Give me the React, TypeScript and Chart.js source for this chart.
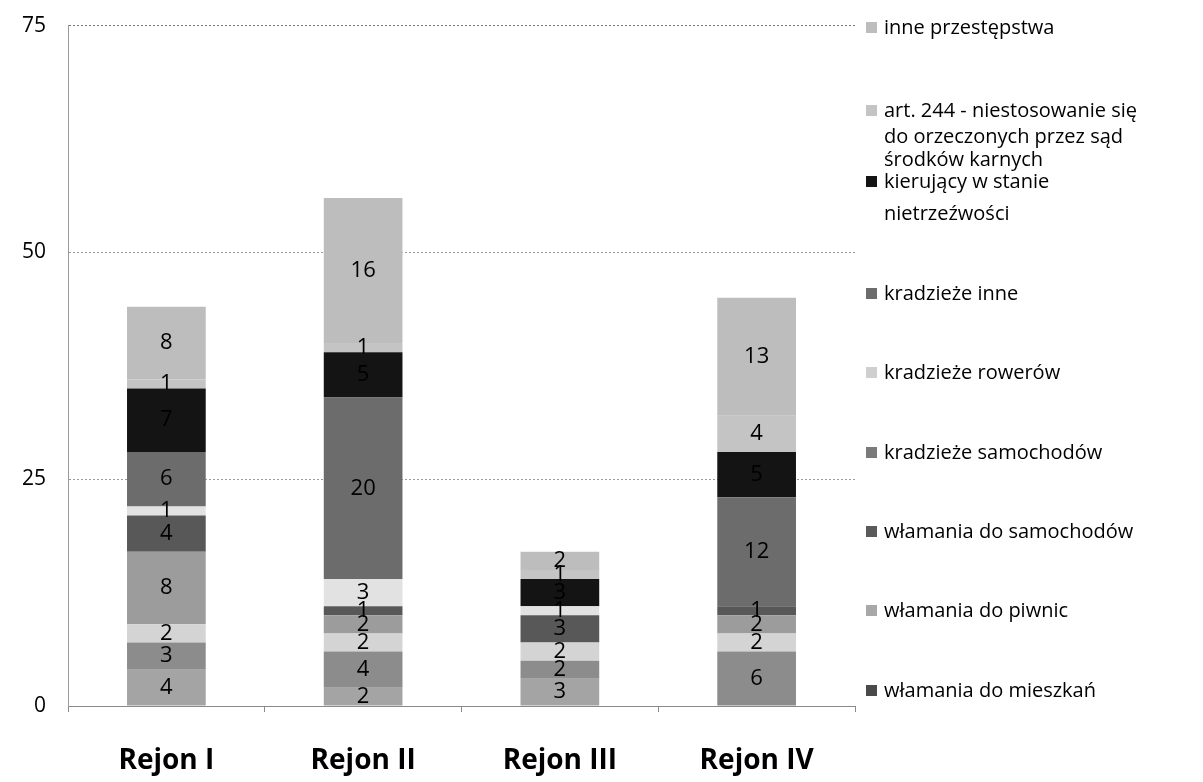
import React, { useEffect, useRef } from "react";
import { Chart, registerables } from "chart.js";

Chart.register(...registerables);

const categories = ["Rejon I", "Rejon II", "Rejon III", "Rejon IV"];

// series from bottom of the stack to the top
const seriesNames = [
  "seria spoza legendy",
  "włamania do mieszkań",
  "włamania do piwnic",
  "włamania do samochodów",
  "kradzieże samochodów",
  "kradzieże rowerów",
  "kradzieże inne",
  "kierujący w stanie nietrzeźwości",
  "art. 244 - niestosowanie się do orzeczonych przez sąd środków karnych",
  "inne przestępstwa",
];

const hiddenSeries = [4, 2, 3, 0];
const wlamaniaMieszkan = [3, 4, 2, 6];
const wlamaniaPiwnic = [2, 2, 2, 2];
const wlamaniaSamochodow = [8, 2, 0, 2];
const kradziezeSamochodow = [4, 1, 3, 1];
const kradziezeRowerow = [1, 3, 1, 0];
const kradziezeInne = [6, 20, 0, 12];
const kierujacy = [7, 5, 3, 5];
const art244 = [1, 1, 1, 4];
const innePrzestepstwa = [8, 16, 2, 13];

const seriesValues = [
  hiddenSeries,
  wlamaniaMieszkan,
  wlamaniaPiwnic,
  wlamaniaSamochodow,
  kradziezeSamochodow,
  kradziezeRowerow,
  kradziezeInne,
  kierujacy,
  art244,
  innePrzestepstwa,
];

const seriesColors = [
  "#a4a4a4",
  "#8c8c8c",
  "#d4d4d4",
  "#9c9c9c",
  "#585858",
  "#e2e2e2",
  "#6c6c6c",
  "#141414",
  "#c4c4c4",
  "#bdbdbd",
];

const yTicks = [0, 25, 50, 75];

// legend entries (top to bottom), as shown in the reference
const legendEntries: { lines: string[]; color: string; ys: number[] }[] = [
  { lines: ["inne przestępstwa"], color: "#bdbdbd", ys: [27] },
  {
    lines: ["art. 244 - niestosowanie się", "do orzeczonych przez sąd", "środków karnych"],
    color: "#c4c4c4",
    ys: [110, 136, 159],
  },
  { lines: ["kierujący w stanie", "nietrzeźwości"], color: "#141414", ys: [181, 213] },
  { lines: ["kradzieże inne"], color: "#6c6c6c", ys: [293] },
  { lines: ["kradzieże rowerów"], color: "#cfcfcf", ys: [372] },
  { lines: ["kradzieże samochodów"], color: "#7a7a7a", ys: [452] },
  { lines: ["włamania do samochodów"], color: "#5a5a5a", ys: [531] },
  { lines: ["włamania do piwnic"], color: "#a8a8a8", ys: [610] },
  { lines: ["włamania do mieszkań"], color: "#4a4a4a", ys: [690] },
];

const valueLabels = {
  id: "valueLabels",
  afterDatasetsDraw(chart: any) {
    const ctx = chart.ctx;
    ctx.save();
    ctx.font = "22px 'Open Sans', sans-serif";
    ctx.fillStyle = "#000";
    ctx.textAlign = "center";
    ctx.textBaseline = "middle";
    chart.data.datasets.forEach((ds: any, di: number) => {
      const meta = chart.getDatasetMeta(di);
      meta.data.forEach((el: any, i: number) => {
        const v = ds.data[i];
        if (!v) return;
        const p = el.getProps(["x", "y", "base"], true);
        ctx.fillText(String(v), p.x, (p.y + p.base) / 2);
      });
    });
    ctx.restore();
  },
};

const SHIFT = 9;

export default function App() {
  const canvasRef = useRef<HTMLCanvasElement | null>(null);

  useEffect(() => {
    if (!canvasRef.current) return;
    const chart = new Chart(canvasRef.current, {
      type: "bar",
      data: {
        labels: categories,
        datasets: seriesNames.map((name, i) => ({
          label: name,
          data: seriesValues[i],
          backgroundColor: seriesColors[i],
          borderWidth: 0,
          barPercentage: 0.4,
          categoryPercentage: 1,
        })),
      },
      options: {
        responsive: false,
        maintainAspectRatio: false,
        animation: false,
        layout: { padding: { left: 8, right: 348, top: 16, bottom: 0 } },
        plugins: {
          legend: { display: false },
          tooltip: { enabled: false },
          title: { display: false },
        },
        scales: {
          x: {
            stacked: true,
            afterFit: (s: any) => {
              s.height = 76;
            },
            grid: {
              display: true,
              drawOnChartArea: false,
              tickLength: 6,
              color: "#8a8a8a",
              offset: true,
            },
            border: { color: "#8a8a8a", dash: [2, 2] },
            ticks: {
              color: "#000",
              padding: 32,
              font: { family: "'Open Sans', sans-serif", size: 28, weight: "bold" },
            },
          },
          y: {
            stacked: true,
            min: 0,
            max: 75,
            afterFit: (s: any) => {
              s.width = 60;
            },
            afterBuildTicks: (s: any) => {
              s.ticks = yTicks.map((v) => ({ value: v }));
            },
            grid: {
              color: (c: any) => (c.tick && c.tick.value === 75 ? "#777" : "#9a9a9a"),
              lineWidth: 1,
              drawTicks: false,
            },
            border: { color: "#9a9a9a", dash: [2, 2] },
            ticks: {
              color: "#000",
              padding: 22,
              font: { family: "'Open Sans', sans-serif", size: 21 },
            },
          },
        },
      },
      plugins: [valueLabels],
    });
    return () => chart.destroy();
  }, []);

  return (
    <div
      style={{
        position: "absolute",
        left: 0,
        top: 0,
        width: 1203,
        height: 782,
        background: "#fff",
        overflow: "hidden",
      }}
    >
      <canvas
        ref={canvasRef}
        width={1203}
        height={782 + SHIFT}
        style={{ display: "block", position: "absolute", left: 0, top: -SHIFT }}
      />
      {legendEntries.map((e, k) => (
        <React.Fragment key={k}>
          <div
            style={{
              position: "absolute",
              left: 866,
              top: e.ys[0] - 5,
              width: 11,
              height: 11,
              background: e.color,
            }}
          />
          {e.lines.map((line, j) => (
            <div
              key={j}
              style={{
                position: "absolute",
                left: 884,
                top: e.ys[j] - 13,
                height: 26,
                lineHeight: "26px",
                fontFamily: "'Open Sans', sans-serif",
                fontSize: 20,
                color: "#000",
                whiteSpace: "nowrap",
              }}
            >
              {line}
            </div>
          ))}
        </React.Fragment>
      ))}
    </div>
  );
}
